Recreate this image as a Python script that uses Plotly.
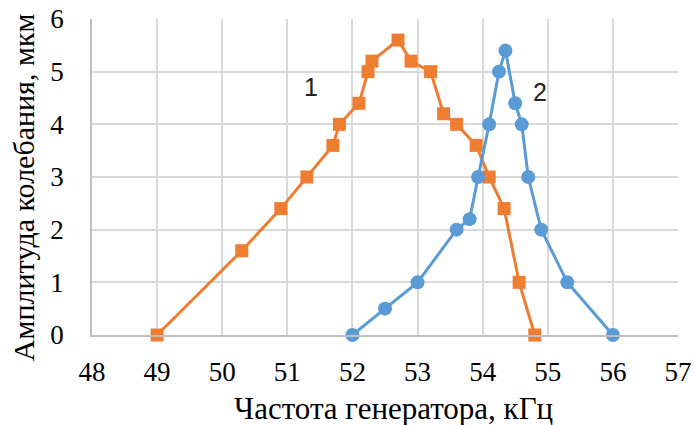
import plotly.graph_objects as go

x1 = [49, 50.3, 50.9, 51.3, 51.7, 51.8, 52.1, 52.24, 52.3, 52.7, 52.9, 53.2, 53.4, 53.6, 53.9, 54.1, 54.33, 54.56, 54.8]
y1 = [0, 1.6, 2.4, 3.0, 3.6, 4.0, 4.4, 5.0, 5.2, 5.6, 5.2, 5.0, 4.2, 4.0, 3.6, 3.0, 2.4, 1.0, 0]

x2 = [52.0, 52.5, 53.0, 53.6, 53.8, 53.93, 54.1, 54.25, 54.35, 54.5, 54.6, 54.7, 54.9, 55.3, 56.0]
y2 = [0, 0.5, 1.0, 2.0, 2.2, 3.0, 4.0, 5.0, 5.4, 4.4, 4.0, 3.0, 2.0, 1.0, 0]

x_title = "Частота генератора, кГц"
y_title = "Амплитуда колебания, мкм"
labels = ["1", "2"]
label_x = [51.36, 54.88]
label_y = [4.7, 4.62]

fig = go.Figure()
fig.add_trace(go.Scatter(x=x1, y=y1, mode="lines+markers",
                         line=dict(color="#ED7D31", width=3),
                         marker=dict(symbol="square", size=13, color="#ED7D31"),
                         cliponaxis=False, showlegend=False))
fig.add_trace(go.Scatter(x=x2, y=y2, mode="lines+markers",
                         line=dict(color="#5B9BD5", width=3),
                         marker=dict(symbol="circle", size=14, color="#5B9BD5"),
                         cliponaxis=False, showlegend=False))
for t, lx, ly in zip(labels, label_x, label_y):
    fig.add_annotation(x=lx, y=ly, text=t, showarrow=False,
                       font=dict(family="Liberation Sans, Arial", size=25, color="#222"))

# axis titles placed as paper annotations
fig.add_annotation(x=0.5137, y=-0.232, xref="paper", yref="paper", text=x_title,
                   showarrow=False, xanchor="center", yanchor="middle",
                   font=dict(size=31))
fig.add_annotation(x=-0.1177, y=0.468, xref="paper", yref="paper", text=y_title,
                   showarrow=False, textangle=-90, xanchor="center", yanchor="middle",
                   font=dict(size=30))

fig.update_layout(
    width=694, height=425,
    margin=dict(l=92, r=16, t=19, b=90),
    plot_bgcolor="white", paper_bgcolor="white",
    font=dict(family="Liberation Serif, Times New Roman, serif", size=27, color="black"),
)
fig.update_xaxes(range=[48, 57], dtick=1, showgrid=True, gridcolor="#D9D9D9", gridwidth=1.5,
                 zeroline=False, showline=True, linecolor="#BFBFBF", linewidth=1.5, mirror=False,
                 ticks="", ticklabelstandoff=12, automargin=False, ticklabeloverflow="allow")
fig.update_yaxes(range=[0, 6], dtick=1, showgrid=True, gridcolor="#D9D9D9", gridwidth=1.5,
                 zeroline=False, showline=True, linecolor="#BFBFBF", linewidth=1.5,
                 ticks="", ticklabelstandoff=21, automargin=False, ticklabeloverflow="allow")

fig.write_html("out.html", config={"displayModeBar": False},
               post_script="document.body.style.margin='0';document.body.style.overflow='hidden';")
